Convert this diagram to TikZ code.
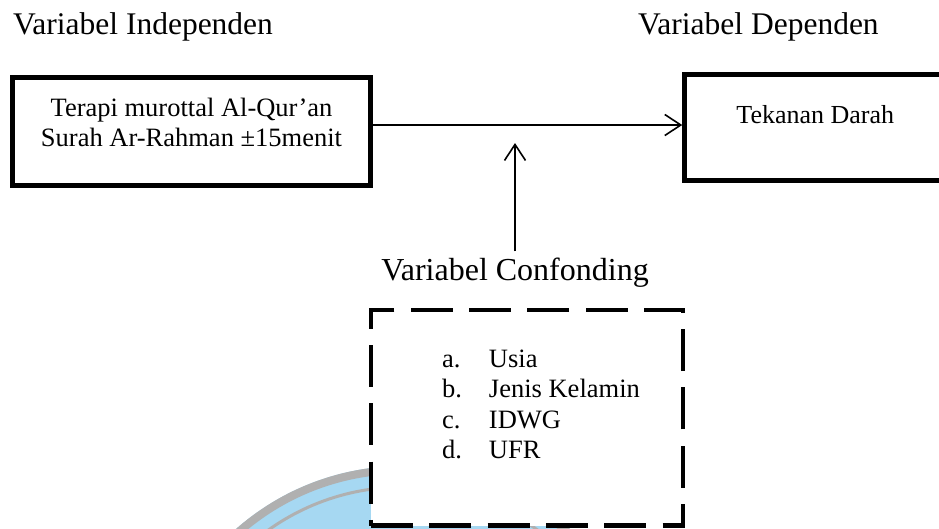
\documentclass[tikz,border=0pt]{standalone}
\usepackage{fontspec}
\setmainfont{Liberation Serif}
\usepackage{xcolor}
\usetikzlibrary{arrows.meta,positioning}
\definecolor{wmblue}{HTML}{A6D8F2}
\definecolor{wmgray}{HTML}{B0B0B0}

\begin{document}
\begin{tikzpicture}[x=1pt, y=-1pt,
    block/.style={rectangle, draw, line width=5pt, fill=white, inner sep=0pt},
    dashblock/.style={block, line width=4.5pt, dash pattern=on 42pt off 16.3pt},
    heading/.style={font=\fontsize{31.5}{38}\selectfont, inner sep=0pt, anchor=base west},
    arrow/.style={->, >={Straight Barb[length=16pt,width=21pt]}, line width=1.6pt}]

    \clip (0,0) rectangle (939,528);
    % logo watermark behind the confounder box
    \fill[wmblue] (403,719) circle (253pt);
    \draw[wmgray, line width=8pt] (403,719) circle (249pt);
    \draw[wmgray, line width=3pt] (403,719) circle (232pt);

    \node[heading] (indep) at (13,34) {Variabel Independen};
    \node[heading] (dep) at (638,34) {Variabel Dependen};

    \node[block, minimum width=358pt, minimum height=108pt] (terapi) at (191.5,131.5)
        {\parbox[c][108pt][t]{358pt}{\centering\fontsize{26.5}{30}\selectfont
        \rule{0pt}{38.5pt}Terapi murottal Al-Qur’an\\Surah Ar-Rahman ±15menit}};
    \node[block, line width=4.5pt, minimum width=265.5pt, minimum height=106pt] (tekanan) at (817.25,127.5)
        {\parbox[c][106pt][t]{265.5pt}{\centering\fontsize{26}{30}\selectfont
        \rule{0pt}{48.5pt}\hspace*{-4pt}Tekanan Darah}};

    \node[font=\fontsize{32}{38}\selectfont, inner sep=6pt, anchor=base] (conf) at (515,280) {Variabel Confonding};
    \node[dashblock, minimum width=312pt, minimum height=215.5pt] (confbox) at (527,417.75)
        {\parbox[c][215.5pt][t]{312pt}{\fontsize{26.5}{30.5}\selectfont\leftskip=71pt
        \rule{0pt}{57pt}\makebox[47pt][l]{a.}Usia\\
        \makebox[47pt][l]{b.}Jenis Kelamin\\
        \makebox[47pt][l]{c.}IDWG\\
        \makebox[47pt][l]{d.}UFR}};
    \coordinate (meet) at (515,143);

    \draw[arrow] ([yshift=6.5pt]terapi.east) -- ([yshift=6.5pt]terapi.east -| tekanan.west);
    \draw[arrow] (conf.north) -- (meet);
\end{tikzpicture}
\end{document}
